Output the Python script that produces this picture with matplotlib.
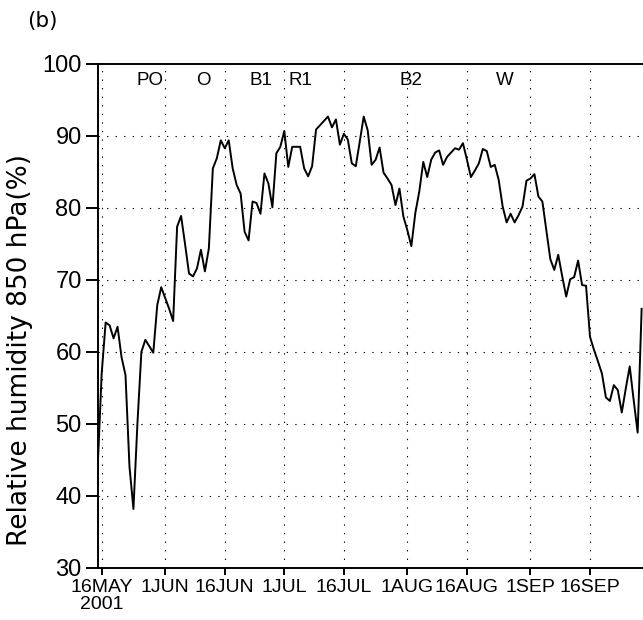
import matplotlib
matplotlib.use("Agg")
import matplotlib.pyplot as plt
import pandas as pd

# daily 850 hPa relative humidity (%), starting 15 May 2001
rh = [44.0, 57.0, 64.1, 63.7, 61.9, 63.5, 59.3, 56.8, 44.1, 38.2,
      50.0, 60.0, 61.7, 60.8, 59.9, 66.5, 69.0, 67.5, 66.0, 64.3,
      77.4, 78.9, 75.0, 70.9, 70.5, 71.6, 74.2, 71.2, 74.4, 85.5,
      86.9, 89.4, 88.3, 89.4, 85.5, 83.2, 82.0, 76.7, 75.5, 80.9,
      80.7, 79.2, 84.8, 83.4, 80.1, 87.6, 88.5, 90.7, 85.7, 88.5,
      88.5, 88.5, 85.5, 84.4, 85.8, 90.9, 91.5, 92.1, 92.7, 91.2,
      92.3, 88.8, 90.3, 89.5, 86.2, 85.8, 89.2, 92.7, 90.8, 86.0,
      86.7, 88.4, 84.9, 84.1, 83.2, 80.4, 82.7, 78.8, 76.9, 74.7,
      79.3, 82.3, 86.4, 84.3, 86.7, 87.7, 88.0, 86.0, 87.1, 87.7,
      88.3, 88.1, 89.0, 86.7, 84.3, 85.2, 86.2, 88.2, 87.9, 85.7,
      86.0, 83.9, 80.2, 78.0, 79.2, 78.0, 79.0, 80.2, 83.8, 84.1,
      84.7, 81.6, 80.9, 76.9, 72.9, 71.4, 73.5, 70.5, 67.7, 70.1,
      70.4, 72.7, 69.3, 69.2, 62.1, 60.3, 58.7, 57.0, 53.7, 53.2,
      55.4, 54.7, 51.6, 54.9, 58.0, 53.3, 48.8, 66.0]
dates = pd.date_range("2001-05-15", periods=len(rh), freq="D")

tick_dates = ["2001-05-16", "2001-06-01", "2001-06-16", "2001-07-01",
              "2001-07-16", "2001-08-01", "2001-08-16", "2001-09-01",
              "2001-09-16"]
tick_labels = ["16MAY\n2001", "1JUN", "16JUN", "1JUL", "16JUL",
               "1AUG", "16AUG", "1SEP", "16SEP"]

# phase labels along the top (days after 15 May)
phase_names = ["PO", "O", "B1", "R1", "B2", "W"]
phase_days = [13.2, 26.5, 41.1, 51.0, 78.9, 102.6]

fig = plt.figure(figsize=(6.43, 6.20), dpi=100)
ax = fig.add_axes([97.7 / 643, 52 / 620, 547.9 / 643, 504 / 620])

ax.plot(dates, rh, color="black", lw=1.4, zorder=3)

t0 = pd.Timestamp("2001-05-15")
ax.set_xlim(t0, pd.Timestamp("2001-09-30"))
ax.set_ylim(30, 100)

xt = pd.to_datetime(tick_dates)
ax.set_xticks(xt)
ax.set_xticklabels(tick_labels, family="Liberation Sans", fontsize=14,
                   linespacing=1.0)
ax.set_yticks(range(30, 101, 10))
ax.set_yticklabels([str(v) for v in range(30, 101, 10)],
                   family="Liberation Sans", fontsize=17)
ax.tick_params(axis="y", direction="out", length=8.5, width=1.4, pad=3)
ax.tick_params(axis="x", direction="out", length=5, width=1.4, pad=3)

dots = (0, (1.2, 6.5))
for t in xt:
    ax.axvline(t, color="black", lw=0.8, ls=dots, zorder=1)
for v in range(40, 100, 10):
    ax.axhline(v, color="black", lw=0.8, ls=dots, zorder=1)

for s in ax.spines.values():
    s.set_linewidth(1.4)

for name, d in zip(phase_names, phase_days):
    ax.text(t0 + pd.Timedelta(days=d), 97.7, name, ha="center", va="center",
            family="Liberation Sans", fontsize=13.5)

fig.text(20 / 643, 1 - 350 / 620, "Relative humidity 850 hPa(%)",
         rotation=90, ha="center", va="center", fontsize=19)
fig.text(42 / 643, 1 - 21 / 620, "(b)", ha="center", va="center", fontsize=15.5)

fig.savefig("out.png", dpi=100)
